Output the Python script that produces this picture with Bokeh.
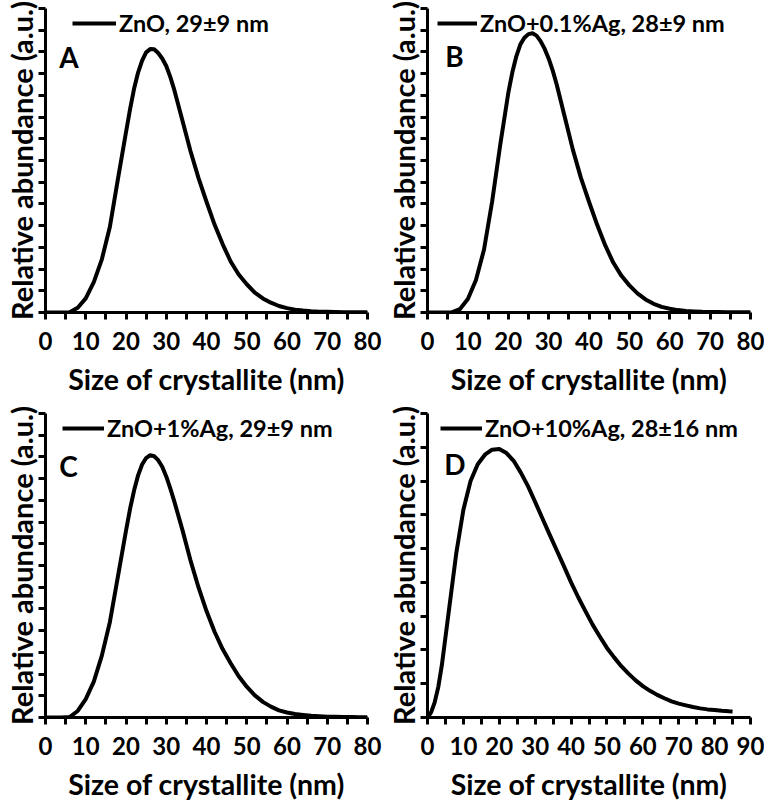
from bokeh.plotting import figure
from bokeh.models import FixedTicker, Label, Range1d
from bokeh.layouts import column, row
from bokeh.embed import file_html
from bokeh.resources import INLINE

FONT = "Lato"

# ---- data (x = crystallite size in nm, y = relative abundance a.u.) ----
SIZE_A = [0, 2, 4, 6, 8, 10, 12, 14, 16, 18, 20, 21, 22, 23, 24, 25, 26, 27, 28, 29, 30, 31, 32,
          34, 36, 38, 40, 42, 44, 46, 48, 50, 52, 54, 56, 58, 60, 62, 64, 66, 68, 70, 72, 74, 76, 78, 80]
ABUND_A = [0, 0, 0, 0.01, 0.22, 0.65, 1.4, 2.45, 3.95, 6.15, 8.3, 9.35, 10.3, 11.05, 11.6, 11.98, 12.13, 12.12,
           11.95, 11.7, 11.35, 10.85, 10.25, 8.85, 7.45, 6.2, 5.1, 4.05, 3.15, 2.35, 1.75, 1.3, 0.92, 0.65,
           0.45, 0.3, 0.2, 0.13, 0.09, 0.06, 0.04, 0.03, 0.02, 0.015, 0.01, 0.01, 0.01]

SIZE_B = [0, 2, 4, 6, 8, 10, 12, 14, 16, 18, 20, 21, 22, 23, 24, 25, 26, 27, 28, 29, 30, 31, 32,
          34, 36, 38, 40, 42, 44, 46, 48, 50, 52, 54, 56, 58, 60, 62, 64, 66, 68, 70, 72, 74, 76, 78, 80]
ABUND_B = [0, 0, 0, 0.01, 0.15, 0.62, 1.5, 2.9, 5.1, 7.7, 10.1, 11.05, 11.8, 12.35, 12.65, 12.82, 12.86, 12.75,
           12.5, 12.15, 11.7, 11.15, 10.5, 9.0, 7.5, 6.2, 5.1, 4.05, 3.1, 2.3, 1.7, 1.25, 0.88, 0.6,
           0.4, 0.26, 0.17, 0.11, 0.07, 0.05, 0.03, 0.02, 0.02, 0.01, 0.01, 0.01, 0.01]

SIZE_C = [0, 2, 4, 6, 8, 10, 12, 14, 16, 18, 20, 21, 22, 23, 24, 25, 26, 27, 28, 29, 30, 31, 32,
          34, 36, 38, 40, 42, 44, 46, 48, 50, 52, 54, 56, 58, 60, 62, 64, 66, 68, 70, 72, 74, 76, 78, 80]
ABUND_C = [0, 0, 0, 0.02, 0.3, 0.85, 1.65, 2.85, 4.4, 6.5, 8.6, 9.6, 10.45, 11.15, 11.65, 11.95, 12.08, 12.03,
           11.85, 11.55, 11.1, 10.55, 9.95, 8.65, 7.25, 6.0, 4.9, 3.95, 3.15, 2.5, 1.9, 1.42, 1.02, 0.72,
           0.5, 0.33, 0.23, 0.16, 0.12, 0.08, 0.06, 0.04, 0.03, 0.02, 0.02, 0.01, 0.01]

SIZE_D = [0, 1, 2, 3, 4, 6, 8, 10, 12, 14, 16, 18, 20, 22, 24, 26, 28, 30, 32, 34, 36, 38, 40, 42,
          44, 46, 48, 50, 52, 54, 56, 58, 60, 62, 64, 66, 68, 70, 72, 74, 76, 78, 80, 82, 84, 85]
ABUND_D = [0, 0.15, 0.45, 0.9, 1.55, 3.2, 4.85, 6.15, 7.0, 7.5, 7.78, 7.93, 7.95, 7.83, 7.6, 7.25, 6.85,
           6.38, 5.9, 5.42, 4.95, 4.48, 4.0, 3.56, 3.15, 2.75, 2.4, 2.06, 1.78, 1.52, 1.3, 1.1, 0.93,
           0.79, 0.67, 0.57, 0.48, 0.41, 0.36, 0.31, 0.27, 0.24, 0.22, 0.2, 0.185, 0.18]

LEGENDS = ["ZnO, 29±9 nm", "ZnO+0.1%Ag, 28±9 nm", "ZnO+1%Ag, 29±9 nm", "ZnO+10%Ag, 28±16 nm"]
LETTERS = ["A", "B", "C", "D"]
X_TICKS_80 = [0, 10, 20, 30, 40, 50, 60, 70, 80]
X_MINOR_80 = [5, 15, 25, 35, 45, 55, 65, 75]
X_TICKS_90 = [0, 10, 20, 30, 40, 50, 60, 70, 80, 90]
X_MINOR_90 = [5, 15, 25, 35, 45, 55, 65, 75, 85]
Y_TICKS_14 = list(range(15))
Y_TICKS_9 = list(range(10))

X_TITLE = "Size of crystallite (nm)"
Y_TITLE = "Relative abundance (a.u.)"

FW = 326   # frame width (px)
FH = 304   # frame height (px)
BOTTOM = 91


def panel(xs, ys, legend, letter, x_end, y_end, xticks, xminor, yticks,
          left, right, top, leg_dx, leg_dy, glyph_w, letter_dx, letter_dy):
    p = figure(width=left + FW + right, height=top + FH + BOTTOM, output_backend="svg",
               toolbar_location=None,
               x_range=Range1d(0, x_end), y_range=Range1d(0, y_end),
               min_border_left=left, min_border_right=right, min_border_top=top,
               min_border_bottom=BOTTOM)
    p.outline_line_color = None
    p.xgrid.visible = False
    p.ygrid.visible = False
    p.background_fill_color = "white"

    p.line(xs, ys, line_color="black", line_width=4, line_join="round",
           legend_label=legend)

    for ax in (p.xaxis[0], p.yaxis[0]):
        ax.axis_line_width = 3
        ax.axis_line_color = "black"
        ax.major_tick_line_width = 3
        ax.major_tick_line_color = "black"
        ax.major_tick_in = 0
        ax.major_tick_out = 7
        ax.minor_tick_line_width = 3
        ax.minor_tick_line_color = "black"
        ax.minor_tick_in = 0
        ax.minor_tick_out = 7
        ax.axis_label_text_font = FONT
        ax.axis_label_text_font_style = "bold"
        ax.axis_label_text_color = "black"

    xa = p.xaxis[0]
    xa.ticker = FixedTicker(ticks=xticks, minor_ticks=xminor)
    xa.major_label_text_font = FONT
    xa.major_label_text_font_style = "bold"
    xa.major_label_text_font_size = "24px"
    xa.major_label_text_color = "black"
    xa.major_label_standoff = 12
    xa.axis_label = X_TITLE
    xa.axis_label_text_font_size = "28.5px"
    xa.axis_label_standoff = 9

    # y axis: evenly spaced unlabeled ticks only
    ya = p.yaxis[0]
    ya.ticker = FixedTicker(ticks=[], minor_ticks=yticks)
    ya.major_label_standoff = 0
    ya.axis_label = Y_TITLE
    ya.axis_label_text_font_size = "29px"
    ya.axis_label_standoff = 0

    px_x = x_end / FW
    px_y = y_end / FH

    lg = p.legend[0]
    lg.location = (leg_dx, FH - leg_dy - 15)
    lg.margin = 0
    lg.padding = 0
    lg.spacing = 0
    lg.border_line_alpha = 0
    lg.background_fill_alpha = 0
    lg.glyph_width = glyph_w
    lg.glyph_height = 20
    lg.label_height = 20
    lg.label_standoff = 3
    lg.label_text_font = FONT
    lg.label_text_font_style = "bold"
    lg.label_text_font_size = "23.5px"
    lg.label_text_color = "black"

    p.add_layout(Label(x=letter_dx * px_x, y=y_end - letter_dy * px_y, text=letter, text_font=FONT,
                       text_font_style="bold", text_font_size="28px", text_color="black",
                       text_baseline="alphabetic", text_align="left"))
    return p


pA = panel(SIZE_A, ABUND_A, LEGENDS[0], LETTERS[0], 80, 14, X_TICKS_80, X_MINOR_80, Y_TICKS_14,
           41, 15, 8, 27, 14, 44, 14, 48)
pB = panel(SIZE_B, ABUND_B, LEGENDS[1], LETTERS[1], 80, 14, X_TICKS_80, X_MINOR_80, Y_TICKS_14,
           42, 14, 8, 10, 14, 40, 18, 47)
pC = panel(SIZE_C, ABUND_C, LEGENDS[2], LETTERS[2], 80, 14, X_TICKS_80, X_MINOR_80, Y_TICKS_14,
           41, 15, 10, 17, 14, 42, 14, 52)
pD = panel(SIZE_D, ABUND_D, LEGENDS[3], LETTERS[3], 90, 9, X_TICKS_90, X_MINOR_90, Y_TICKS_9,
           42, 14, 10, 13, 14, 42, 17, 50)

layout = column(row(pA, pB), row(pC, pD))
open("out.html", "w").write(file_html(layout, INLINE))
